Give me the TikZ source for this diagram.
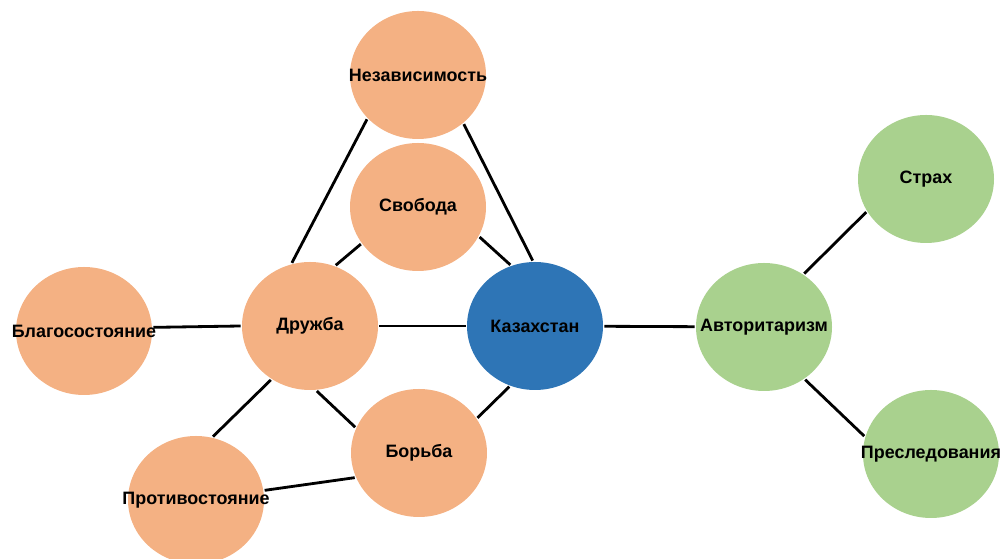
\documentclass[tikz,border=0pt]{standalone}
\usepackage{fontspec}
\setmainfont{Liberation Sans}
\usetikzlibrary{shapes.geometric,backgrounds}
\definecolor{peach}{HTML}{F4B183}
\definecolor{steel}{HTML}{2E75B6}
\definecolor{sage}{HTML}{A9D18E}
\begin{document}
\begin{tikzpicture}[every path/.style={line width=1.6pt},
  every node/.style={ellipse,minimum width=2.72cm,minimum height=2.56cm,inner sep=0pt,font=\bfseries\fontsize{10.2}{12}\selectfont}]
\useasboundingbox (0,0) rectangle (20,11.18);
\node[fill=peach] (nezav)   at (8.36,9.68)  {\makebox[0pt]{Независимость}};
\node[fill=peach] (svoboda) at (8.36,7.04)  {\makebox[0pt]{Свобода}};
\node[fill=peach] (blago)   at (1.68,4.56)  {\makebox[0pt]{Благосостояние}};
\node[fill=peach] (druzhba) at (6.20,4.66)  {\makebox[0pt]{Дружба}};
\node[fill=steel] (kaz)     at (10.70,4.66) {\makebox[0pt]{Казахстан}};
\node[fill=sage]  (avtor)   at (15.28,4.64) {\makebox[0pt]{Авторитаризм}};
\node[fill=sage]  (strakh)  at (18.52,7.60) {\makebox[0pt]{Страх}};
\node[fill=sage]  (presl)   at (18.62,2.10) {\makebox[0pt]{Преследования}};
\node[fill=peach] (borba)   at (8.38,2.12)  {\makebox[0pt]{Борьба}};
\node[fill=peach] (protiv)  at (3.92,1.18)  {\makebox[0pt]{Противостояние}};
\begin{scope}[on background layer]
\draw (blago.3)     edge (druzhba.west);
\draw (druzhba)     edge (kaz);
\draw (kaz)         edge (avtor);
\draw (druzhba.106) edge (nezav.221);
\draw (nezav.313)   edge (kaz.92);
\draw (druzhba.67)  edge (svoboda.213);
\draw (svoboda.334) edge (kaz.112);
\draw (druzhba.276) edge (borba.158);
\draw (borba.31)    edge (kaz.247);
\draw (druzhba.234) edge (protiv.75);
\draw (protiv.8)    edge (borba.201);
\draw (avtor.53)    edge (strakh.209);
\draw (avtor.308)   edge (presl.165);
\end{scope}
\end{tikzpicture}
\end{document}
